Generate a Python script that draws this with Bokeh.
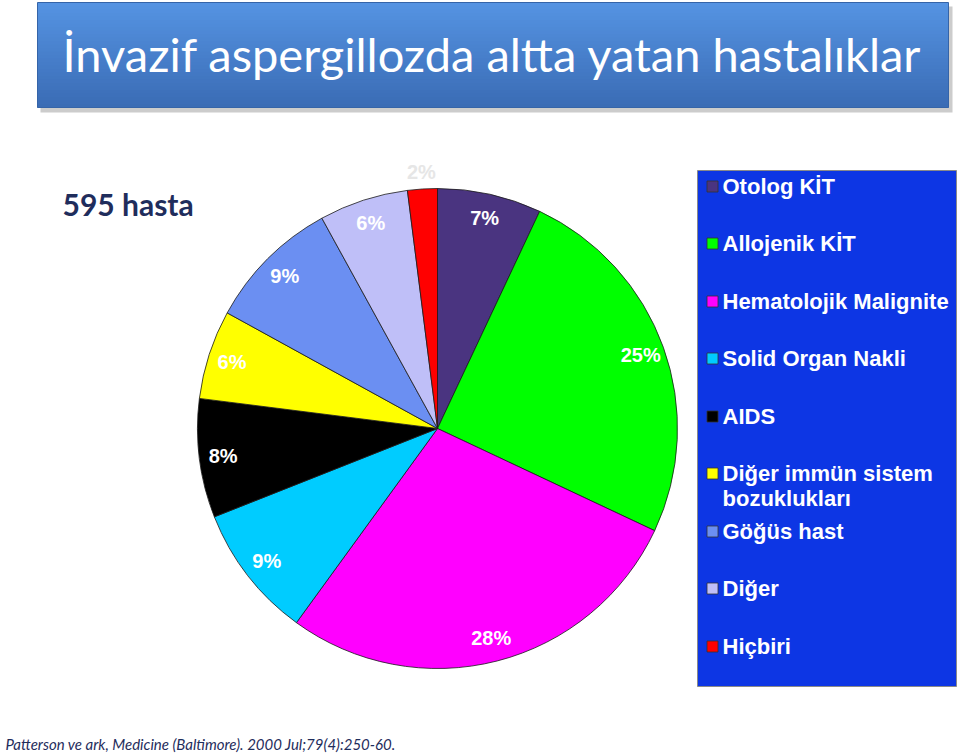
import math
from bokeh.plotting import figure
from bokeh.models import Range1d
from bokeh.core.properties import value
from bokeh.embed import file_html
from bokeh.resources import INLINE

# ---- data ----
categories = ["Otolog KİT", "Allojenik KİT", "Hematolojik Malignite", "Solid Organ Nakli",
              "AIDS", "Diğer immün sistem bozuklukları", "Göğüs hast", "Diğer", "Hiçbiri"]
percentages = [7, 25, 28, 9, 8, 6, 9, 6, 2]
colors = ["#4a3480", "#00ff00", "#ff00ff", "#00ccff", "#000000",
          "#ffff00", "#6b8ff2", "#bfbff8", "#ff0000"]
legend_lines = [["Otolog KİT"], ["Allojenik KİT"], ["Hematolojik Malignite"], ["Solid Organ Nakli"],
                ["AIDS"], ["Diğer immün sistem", "bozuklukları"], ["Göğüs hast"], ["Diğer"], ["Hiçbiri"]]
title = "İnvazif aspergillozda altta yatan hastalıklar"
subtitle = "595 hasta"
citation = "Patterson ve ark, Medicine (Baltimore). 2000 Jul;79(4):250-60."

W, H = 960, 753
def Y(py):
    return H - py

p = figure(width=W, height=H, output_backend="svg", toolbar_location=None,
           x_range=Range1d(0, W), y_range=Range1d(0, H), min_border=0)
p.axis.visible = False
p.grid.visible = False
p.outline_line_color = None
p.background_fill_color = "white"

# ---- title bar (shadow + vertical gradient strips) ----
p.quad(left=[40], right=[952], top=[Y(6)], bottom=[Y(112)], fill_color="#9a9a9a", fill_alpha=0.5, line_color=None)
tb_top, tb_bot = 2, 107
n = 30
c_top = (0x55, 0x93, 0xe2)
c_bot = (0x3a, 0x6c, 0xb5)
lefts, rights, tops, bots, cols = [], [], [], [], []
for i in range(n):
    t = i / (n - 1)
    c = tuple(int(round(c_top[k] + (c_bot[k] - c_top[k]) * t)) for k in range(3))
    y0 = tb_top + (tb_bot - tb_top) * i / n
    y1 = tb_top + (tb_bot - tb_top) * (i + 1) / n
    lefts.append(37); rights.append(948); tops.append(Y(y0)); bots.append(Y(y1) - 0.5)
    cols.append("#%02x%02x%02x" % c)
p.quad(left=lefts, right=rights, top=tops, bottom=bots, fill_color=cols, line_color=None)
p.quad(left=[37], right=[948], top=[Y(tb_top)], bottom=[Y(tb_bot)], fill_color=None, line_color="#3564a8", line_width=1)
p.text(x=[492], y=[Y(53)], text=[title], text_font=value("Lato"), text_font_size="47px",
       text_color="white", text_align="center", text_baseline="middle")

# ---- subtitle ----
p.text(x=[62], y=[Y(203)], text=[subtitle], text_font=value("Lato"), text_font_size="30px",
       text_font_style="bold", text_color="#1f2d5c", text_align="left", text_baseline="middle")

# ---- pie ----
cx, cy, R = 437, Y(428), 240
total = float(sum(percentages))
cum = 0.0
starts, ends = [], []
lx, ly = [], []
for v in percentages:
    c0 = cum / total
    cum += v
    c1 = cum / total
    starts.append(math.pi / 2 - 2 * math.pi * c1)
    ends.append(math.pi / 2 - 2 * math.pi * c0)
    mid = math.pi / 2 - 2 * math.pi * (c0 + c1) / 2
    rr = R * (1.07 if v < 3 else 0.9)
    lx.append(cx + rr * math.cos(mid))
    ly.append(cy + rr * math.sin(mid))
p.wedge(x=cx, y=cy, radius=R, start_angle=starts, end_angle=ends, fill_color=colors,
        line_color="#1a1a1a", line_width=0.8)
lab_cols = ["#e6e6e6" if v < 3 else "white" for v in percentages]
p.text(x=lx, y=ly, text=["%d%%" % v for v in percentages], text_font=value("Liberation Sans"),
       text_font_size="20px", text_font_style="bold", text_color=lab_cols,
       text_align="center", text_baseline="middle")

# ---- legend ----
p.quad(left=[697], right=[956], top=[Y(170)], bottom=[Y(686)], fill_color="#0d36e4",
       line_color="#8a8a8a", line_width=1)
item_y = [186, 243, 301, 358, 416, 473, 531, 588, 646]
p.rect(x=[712] * len(colors), y=[Y(v) for v in item_y], width=11, height=11,
       fill_color=colors, line_color="#333333", line_width=0.8)
tx, ty, tt = [], [], []
for yy, lines in zip(item_y, legend_lines):
    for j, s in enumerate(lines):
        tx.append(722); ty.append(Y(yy + 25 * j)); tt.append(s)
p.text(x=tx, y=ty, text=tt, text_font=value("Liberation Sans"), text_font_size="22px",
       text_font_style="bold", text_color="white", text_align="left", text_baseline="middle")

# ---- citation ----
p.text(x=[5], y=[Y(743)], text=[citation], text_font=value("Lato"), text_font_size="15px",
       text_font_style="italic", text_color="#1f2d5c", text_align="left", text_baseline="middle")

open("out.html", "w").write(file_html(p, INLINE))
